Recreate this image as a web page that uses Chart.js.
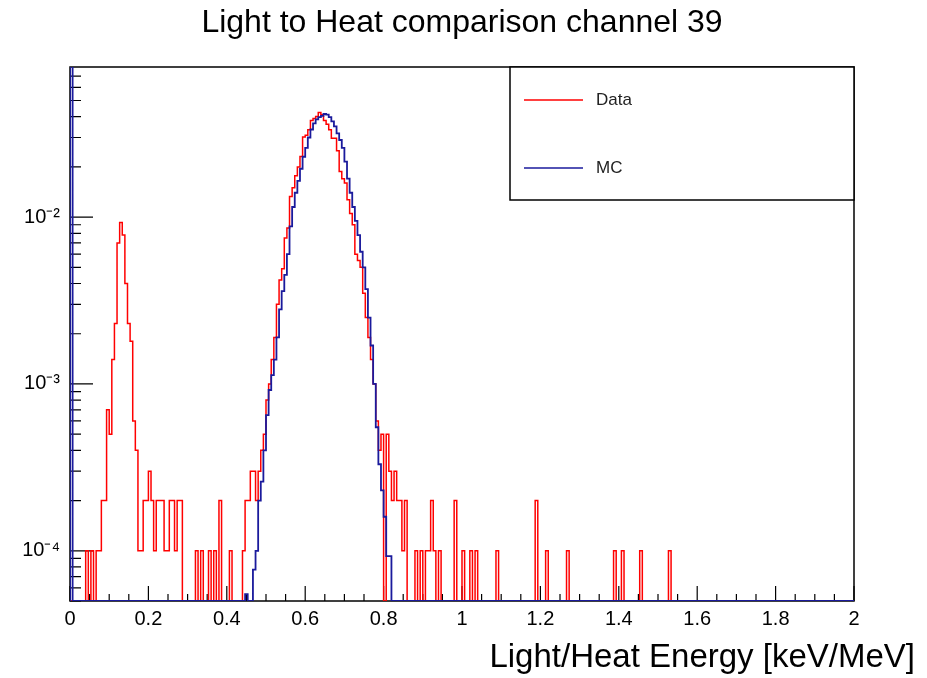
<!DOCTYPE html>
<html>
<head>
<meta charset="utf-8">
<title>Light to Heat comparison channel 39</title>
<script src="https://cdn.jsdelivr.net/npm/chart.js@4.4.0/dist/chart.umd.min.js"></script>
<style>
  html, body { margin: 0; padding: 0; background: #fff; }
  #wrap { position: relative; width: 927px; height: 678px; }
  #xlabel {
    position: absolute; right: 12px; top: 636px;
    font: 33px 'Liberation Sans', Arial, sans-serif; line-height: 40px;
    color: #000; white-space: nowrap;
  }
</style>
</head>
<body>
<div id="wrap">
  <canvas id="chart" width="927" height="678"></canvas>
  <div id="xlabel">Light/Heat Energy [keV/MeV]</div>
</div>
<script>
// 300 bins between 0 and 2, bin contents given in units of 1e-4
const nBins = 300;
const xMin = 0, xMax = 2;
const unit = 1e-4;
const yMin = 5e-5, yMax = 0.0794;

const xTickValues = [0, 0.2, 0.4, 0.6, 0.8, 1, 1.2, 1.4, 1.6, 1.8, 2];
const yTickValues = [1e-4, 1e-3, 1e-2];

const dataBins = [
  6, 8, 10, 11, 12, 13, 14, 15, 16, 17, 18, 19, 20, 21, 22, 23, 24, 25, 26, 27, 28, 29, 30, 31, 32, 33, 34, 35, 36, 37, 38, 39, 40, 41, 42,
  48, 50, 53, 55, 57, 61,
  66, 67, 68, 69, 70, 71, 72, 73, 74, 75, 76, 77, 78, 79, 80, 81, 82, 83, 84, 85, 86, 87, 88, 89, 90, 91, 92, 93, 94, 95, 96, 97, 98, 99,
  100, 101, 102, 103, 104, 105, 106, 107, 108, 109, 110, 111, 112, 113, 114, 115, 116, 117, 118, 119,
  121, 122, 123, 124, 125, 126, 127, 128,
  132, 134, 136, 137, 138, 139, 141, 147, 150, 153, 155, 163, 178, 182, 190, 208, 211, 218, 229
];
const dataCounts = [
  1, 1, 1, 1, 2, 2, 7, 5, 14, 23, 70, 93, 78, 40, 23, 18, 6, 4, 1, 1, 2, 2, 3, 2, 1, 2, 2, 2, 1, 1, 2, 2, 1, 2, 2,
  1, 1, 1, 1, 2, 1,
  1, 2, 2, 3, 3, 2, 3, 4, 5, 8, 10, 14, 19, 30, 42, 49, 75, 86, 133, 150, 177, 200, 231, 302, 310, 334, 380, 390, 401, 424, 411, 380, 360, 334,
  297, 297, 250, 188, 170, 160, 127, 105, 90, 60, 55, 50, 35, 25, 19, 14, 10, 6, 4, 5,
  5, 3, 2, 3, 2, 2, 1, 2,
  1, 1, 1, 1, 2, 1, 1, 2, 1, 1, 1, 1, 2, 1, 1, 1, 1, 1, 1
];

// bin 0 of the MC is off scale (above the frame)
const mcBins = [
  0, 67,
  70, 71, 72, 73, 74, 75, 76, 77, 78, 79, 80, 81, 82, 83, 84, 85, 86, 87, 88, 89, 90, 91, 92, 93, 94, 95, 96, 97, 98, 99,
  100, 101, 102, 103, 104, 105, 106, 107, 108, 109, 110, 111, 112, 113, 114, 115, 116, 117, 118, 119, 120, 121, 122
];
const mcCounts = [
  1000, 0.55,
  0.77, 1, 2, 2.6, 4, 6.5, 9.2, 11.3, 14, 19, 28, 36, 45, 60, 88, 115, 140, 165, 195, 230, 260, 300, 335, 365, 385, 398, 405, 415, 412, 398,
  375, 350, 318, 290, 260, 215, 170, 140, 115, 95, 78, 62, 50, 37, 25, 17, 10, 5.5, 3.3, 2.3, 1.6, 0.93, 0.93
];

function histPoints(bins, counts) {
  const h = new Array(nBins).fill(0);
  bins.forEach((b, i) => { h[b] = counts[i]; });
  const w = (xMax - xMin) / nBins;
  const pts = [{ x: xMin, y: yMin }];
  for (let i = 0; i < nBins; i++) {
    pts.push({ x: xMin + i * w, y: h[i] > 0 ? h[i] * unit : yMin });
  }
  pts.push({ x: xMax, y: yMin });
  return pts;
}

const sup = { '-': '\u207B', '1': '\u00B9', '2': '\u00B2', '3': '\u00B3', '4': '\u2074', '5': '\u2075' };
function powLabel(v) {
  const e = Math.round(Math.log10(v));
  return '10' + String(e).split('').map(c => sup[c]).join('');
}

// ROOT style frame with ticks pointing inwards
const frameTicks = {
  id: 'frameTicks',
  beforeDatasetsDraw(chart) {
    const { ctx, chartArea: a, scales } = chart;
    ctx.save();
    ctx.strokeStyle = '#000';
    ctx.lineWidth = 1.5;
    ctx.strokeRect(a.left, a.top, a.right - a.left, a.bottom - a.top);
    ctx.lineWidth = 1.2;
    ctx.beginPath();
    for (let k = 0; k <= 40; k++) {
      const p = scales.x.getPixelForValue(k * 0.05);
      const len = k % 4 === 0 ? 15 : 7;
      ctx.moveTo(p, a.bottom);
      ctx.lineTo(p, a.bottom - len);
    }
    for (let e = -5; e <= -1; e++) {
      for (let m = 1; m <= 9; m++) {
        const v = m * Math.pow(10, e);
        if (v < yMin * 0.999 || v > yMax) continue;
        const p = scales.y.getPixelForValue(v);
        const len = m === 1 ? 23 : 11;
        ctx.moveTo(a.left, p);
        ctx.lineTo(a.left + len, p);
      }
    }
    ctx.stroke();
    ctx.restore();
  }
};

const legendBox = {
  id: 'legendBox',
  afterDraw(chart) {
    const { ctx, chartArea: a } = chart;
    const x0 = 510, y0 = a.top, x1 = a.right, y1 = 200;
    ctx.save();
    ctx.fillStyle = '#fff';
    ctx.fillRect(x0, y0, x1 - x0, y1 - y0);
    ctx.strokeStyle = '#000';
    ctx.lineWidth = 1.5;
    ctx.strokeRect(x0, y0, x1 - x0, y1 - y0);
    chart.data.datasets.forEach((ds, i) => {
      const y = y0 + 33 + i * 68;
      ctx.strokeStyle = ds.borderColor;
      ctx.lineWidth = 1.5;
      ctx.beginPath();
      ctx.moveTo(524, y);
      ctx.lineTo(583, y);
      ctx.stroke();
      ctx.fillStyle = '#222';
      ctx.font = '17px "Liberation Sans", Arial, sans-serif';
      ctx.textBaseline = 'middle';
      ctx.fillText(ds.label, 596, y);
    });
    ctx.restore();
  }
};

new Chart(document.getElementById('chart'), {
  type: 'line',
  data: {
    datasets: [
      {
        label: 'Data',
        data: histPoints(dataBins, dataCounts),
        borderColor: '#ff0000',
        borderWidth: 1.5,
        pointRadius: 0,
        stepped: true,
        order: 1
      },
      {
        label: 'MC',
        data: histPoints(mcBins, mcCounts),
        borderColor: '#1a1a9c',
        borderWidth: 1.8,
        pointRadius: 0,
        stepped: true,
        order: 0
      }
    ]
  },
  options: {
    responsive: false,
    animation: false,
    devicePixelRatio: 1,
    layout: { padding: { left: 0, right: 73, top: 0, bottom: 0 } },
    plugins: {
      legend: { display: false },
      tooltip: { enabled: false },
      title: {
        display: true,
        fullSize: false,
        text: 'Light to Heat comparison channel 39',
        color: '#000',
        font: { family: 'Liberation Sans', size: 32, weight: 'normal', lineHeight: 1.2 },
        padding: { top: 4, bottom: 24.6 }
      }
    },
    scales: {
      x: {
        type: 'linear',
        min: xMin,
        max: xMax,
        grid: { display: false, tickLength: 0 },
        border: { display: false },
        afterBuildTicks: scale => { scale.ticks = xTickValues.map(v => ({ value: v })); },
        afterFit: scale => { scale.height = 77; },
        ticks: {
          autoSkip: false,
          maxRotation: 0,
          padding: 6,
          color: '#000',
          font: { family: 'Liberation Sans', size: 20 },
          callback: v => String(Math.round(v * 10) / 10)
        }
      },
      y: {
        type: 'logarithmic',
        min: yMin,
        max: yMax,
        grid: { display: false, tickLength: 0 },
        border: { display: false },
        afterBuildTicks: scale => { scale.ticks = yTickValues.map(v => ({ value: v })); },
        afterFit: scale => { scale.width = 70; },
        ticks: {
          padding: 10,
          color: '#000',
          font: { family: 'Liberation Sans', size: 20 },
          callback: v => powLabel(v)
        }
      }
    }
  },
  plugins: [frameTicks, legendBox]
});
</script>
</body>
</html>
